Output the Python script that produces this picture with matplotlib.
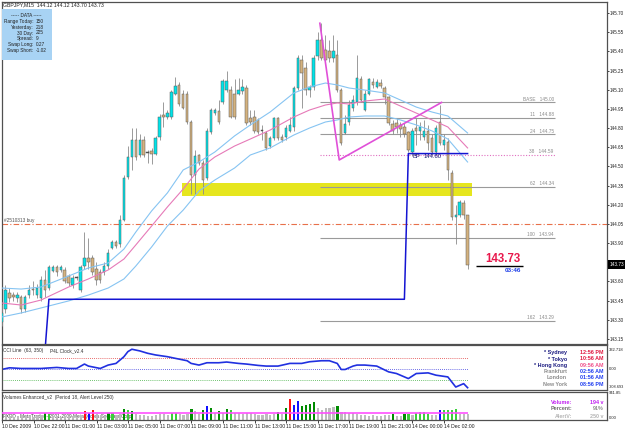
import matplotlib
matplotlib.use("Agg")
import matplotlib.pyplot as plt
from matplotlib.patches import Rectangle

plt.rcParams['font.family'] = ['Liberation Sans', 'DejaVu Sans']

# ---------------- data (GBPJPY, M15) ----------------
opens = [143.28, 143.38, 143.51, 143.49, 143.47, 143.48, 143.38, 143.49, 143.54, 143.49,
         143.47, 143.61, 143.55, 143.68, 143.71, 143.69, 143.69, 143.64, 143.57, 143.63,
         143.53, 143.72, 143.78, 143.78, 143.70, 143.67, 143.67, 143.72, 143.86, 143.91,
         143.89, 144.08, 144.42, 144.57, 144.71, 144.59, 144.71, 144.61, 144.62, 144.60,
         144.73, 144.90, 144.89, 144.89, 145.07, 145.14, 145.07, 145.07, 144.85, 144.43,
         144.59, 144.53, 144.41, 144.77, 144.92, 144.93, 145.00, 145.10, 145.10, 145.07,
         145.07, 145.09, 145.11, 144.88, 144.89, 144.86, 144.78, 144.76, 144.66, 144.72,
         144.88, 144.73, 144.73, 144.78, 144.81, 145.11, 145.33, 145.27, 145.10, 145.12,
         145.36, 145.49, 145.41, 145.40, 145.35, 145.37, 145.10, 144.76, 144.85, 144.96,
         145.00, 145.18, 144.94, 145.07, 145.16, 145.12, 145.15, 145.11, 145.04, 144.83,
         144.84, 144.82, 144.81, 144.77, 144.61, 144.80, 144.78, 144.73, 144.78, 144.72,
         144.61, 144.85, 144.67, 144.69, 144.45, 144.10, 144.12, 144.21, 144.12]
highs = [143.42, 143.57, 143.55, 143.52, 143.52, 143.49, 143.49, 143.57, 143.60, 143.58,
         143.64, 143.69, 143.73, 143.73, 143.73, 143.73, 143.71, 143.66, 143.65, 143.64,
         143.73, 143.99, 143.94, 143.81, 143.75, 143.70, 143.75, 143.85, 143.92, 143.92,
         144.12, 144.43, 144.66, 144.80, 144.80, 144.75, 144.74, 144.63, 144.64, 144.74,
         144.91, 145.00, 144.94, 145.10, 145.20, 145.16, 145.10, 145.09, 144.86, 144.63,
         144.60, 144.55, 144.80, 144.96, 144.96, 145.02, 145.18, 145.25, 145.13, 145.18,
         145.19, 145.18, 145.14, 144.94, 144.94, 144.88, 144.82, 144.78, 144.74, 144.89,
         144.89, 144.75, 144.82, 144.89, 145.13, 145.37, 145.37, 145.32, 145.14, 145.37,
         145.55, 145.62, 145.53, 145.49, 145.53, 145.49, 145.11, 144.90, 145.02, 145.06,
         145.37, 145.21, 145.10, 145.19, 145.19, 145.18, 145.18, 145.13, 145.05, 144.86,
         144.88, 144.85, 144.84, 144.78, 144.80, 144.88, 144.85, 144.86, 144.82, 144.75,
         144.82, 144.98, 144.75, 144.72, 144.47, 144.20, 144.24, 144.24, 144.12]
lows = [143.25, 143.35, 143.44, 143.45, 143.44, 143.35, 143.36, 143.47, 143.49, 143.47,
        143.45, 143.48, 143.53, 143.67, 143.64, 143.67, 143.59, 143.56, 143.55, 143.61,
        143.52, 143.70, 143.70, 143.65, 143.57, 143.59, 143.65, 143.70, 143.85, 143.86,
        143.87, 144.07, 144.40, 144.47, 144.55, 144.57, 144.57, 144.53, 144.52, 144.59,
        144.71, 144.81, 144.87, 144.87, 145.06, 144.97, 144.95, 144.83, 144.28, 144.28,
        144.51, 144.28, 144.39, 144.75, 144.90, 144.83, 144.99, 145.08, 144.88, 144.87,
        145.06, 145.07, 144.82, 144.82, 144.76, 144.75, 144.71, 144.63, 144.64, 144.71,
        144.71, 144.69, 144.71, 144.77, 144.78, 145.10, 144.96, 145.06, 145.04, 145.10,
        145.33, 145.33, 145.32, 145.32, 145.32, 145.08, 144.67, 144.75, 144.82, 144.93,
        144.98, 145.00, 144.93, 145.06, 145.11, 145.11, 145.11, 144.99, 144.82, 144.75,
        144.76, 144.73, 144.73, 144.61, 144.58, 144.67, 144.71, 144.71, 144.63, 144.59,
        144.59, 144.67, 144.63, 144.39, 144.08, 143.89, 144.10, 144.09, 143.70]
closes = [143.35, 143.53, 143.47, 143.48, 143.49, 143.38, 143.48, 143.53, 143.53, 143.55,
          143.61, 143.53, 143.71, 143.71, 143.67, 143.71, 143.60, 143.59, 143.63, 143.625,
          143.71, 143.78, 143.75, 143.67, 143.61, 143.61, 143.72, 143.82, 143.91, 143.88,
          144.08, 144.41, 144.57, 144.71, 144.57, 144.71, 144.59, 144.605, 144.60, 144.72,
          144.89, 144.89, 144.92, 145.08, 145.13, 144.99, 144.96, 144.85, 144.43, 144.58,
          144.53, 144.39, 144.78, 144.94, 144.94, 144.85, 145.17, 145.17, 144.89, 144.89,
          145.10, 145.12, 144.84, 144.85, 144.78, 144.77, 144.775, 144.64, 144.72, 144.88,
          144.72, 144.71, 144.80, 144.82, 145.11, 145.35, 145.23, 145.10, 145.12, 145.35,
          145.49, 145.35, 145.33, 145.35, 145.40, 145.10, 144.68, 144.83, 144.98, 145.02,
          145.19, 145.02, 145.07, 145.18, 145.14, 145.16, 145.13, 145.04, 144.84, 144.78,
          144.81, 144.79, 144.75, 144.63, 144.78, 144.78, 144.81, 144.78, 144.68, 144.61,
          144.80, 144.68, 144.71, 144.47, 144.10, 144.12, 144.22, 144.12, 143.73]

# envelope lines (sampled along the bars)
ma_bars = [0, 5, 10, 17, 22, 27, 31, 34, 38, 42, 46, 50, 54, 59, 63, 68, 74, 78, 82, 85,
           88, 92, 97, 101, 105, 109, 113, 118]
ma_upper = [143.548, 143.540, 143.556, 143.642, 143.705, 143.744, 143.853, 143.986, 144.151,
            144.292, 144.472, 144.534, 144.612, 144.738, 144.824, 144.925, 145.074, 145.121,
            145.152, 145.137, 145.113, 145.097, 145.074, 145.019, 144.964, 144.925, 144.894,
            144.761]
ma_mid = [143.431, 143.415, 143.454, 143.556, 143.619, 143.689, 143.775, 143.885, 144.033,
          144.182, 144.323, 144.479, 144.573, 144.659, 144.714, 144.784, 144.886, 144.941,
          144.980, 144.996, 144.988, 145.011, 145.027, 144.972, 144.917, 144.863, 144.808,
          144.644]
ma_lower = [143.321, 143.353, 143.392, 143.447, 143.493, 143.548, 143.619, 143.720, 143.869,
            144.033, 144.158, 144.307, 144.393, 144.487, 144.589, 144.644, 144.745, 144.800,
            144.847, 144.863, 144.886, 144.894, 144.894, 144.863, 144.824, 144.777, 144.714,
            144.534]

# step line (blue)
zz_bars = [11, 12, 102, 103, 118]
zz_prices = [143.05, 143.46, 143.46, 144.60, 144.60]

# fibo object
tri_bars = [80.6, 85.5, 111.4]
tri_prices = [145.62, 144.55, 145.00]
fib_names = ['BASE', '11', '24', '38', '62', '100', '162']
fib_prices = [145.00, 144.88, 144.75, 144.59, 144.34, 143.94, 143.29]
fib_span = (80.6, 140.1)

zone_bars = (45.7, 119.1)
zone_prices = (144.27, 144.37)
order_price = 144.05
last_price = 143.73

price_ticks = [145.70, 145.55, 145.40, 145.25, 145.10, 144.95, 144.80, 144.65, 144.50,
               144.35, 144.20, 144.05, 143.90, 143.75, 143.60, 143.45, 143.30, 143.15]

cci_bars = [0, 2, 5, 7, 10, 14, 17, 19, 21, 22, 25, 27, 29, 31, 32, 33, 35, 37, 39, 42,
            44, 47, 48, 50, 52, 55, 57, 60, 62, 65, 67, 70, 73, 76, 78, 81, 83, 85, 86, 87,
            89, 90, 92, 95, 98, 100, 103, 105, 108, 110, 113, 115, 117, 118]
cci_vals = [-6, 17, 8, 8, 8, 22, 8, 8, 69, 41, 8, 55, 78, 171, 241, 274, 251, 218, 195, 171,
            148, 115, 78, 55, 87, 87, 97, 78, 69, 50, 41, 41, 78, 78, 101, 115, 115, 78, -6, -6,
            41, 55, 55, 41, -39, -62, -132, -62, -53, -85, -109, -249, -202, -258]
cci_levels = [150, 0, -150]

vols = [150, 170, 120, 110, 130, 160, 150, 120, 100, 140,
        170, 220, 200, 130, 120, 110, 150, 140, 130, 100,
        180, 310, 230, 320, 200, 170, 150, 250, 250, 160,
        210, 360, 340, 290, 190, 170, 160, 130, 120, 160,
        200, 190, 170, 230, 250, 200, 180, 210, 370, 290,
        200, 320, 480, 400, 220, 310, 240, 370, 340, 230,
        220, 200, 240, 220, 200, 180, 170, 200, 180, 190,
        280, 210, 400, 710, 510, 630, 480, 490, 540, 590,
        400, 340, 400, 400, 430, 480, 280, 280, 250, 250,
        200, 180, 170, 150, 160, 140, 150, 170, 180, 210,
        140, 120, 210, 200, 170, 230, 280, 280, 210, 170,
        170, 340, 320, 340, 340, 360, 210, 210, 194]
vol_kind = ('xxxxxxxxxx' 'xglxxxxxxx' 'xrbrxxxglx' 'xglgxxxxxx' 'xxxllxxxgx'
            'xgbgxgxglx' 'xxxxxxxxxx' 'gxgrbbgggg' 'xxxxxgxxxx' 'xxxxxxxxxg'
            'xxglxllllx' 'xbllllxxx')
vol_alert = 250

time_ticks = [0, 8, 16, 24, 32, 40, 48, 56, 64, 72, 80, 88, 96, 104, 112]
time_labels = ['10 Dec 2009', '10 Dec 22:00', '11 Dec 01:00', '11 Dec 03:00', '11 Dec 05:00',
               '11 Dec 07:00', '11 Dec 09:00', '11 Dec 11:00', '11 Dec 13:00', '11 Dec 15:00',
               '11 Dec 17:00', '11 Dec 19:00', '11 Dec 21:00', '14 Dec 00:00', '14 Dec 02:00']

clock_cities = ['* Sydney', '* Tokyo', '* Hong Kong', 'Frankfurt', 'London', 'New York']
clock_times = ['12:56 PM', '10:56 AM', '09:56 AM', '02:56 AM', '01:56 AM', '08:56 PM']

info_labels = ['Range Today:', 'Yesterday:', '30 Day:', 'Spread:', 'Swap Long:', 'Swap Short:']
info_values = ['150', '218', '225', '9', '0.27', '-1.02']

# ---------------- layout helpers ----------------
W, H = 625, 429
BAR0, STEP = 1.5, 3.95


def bar_at(px):
    return (px - BAR0) / STEP


fig = plt.figure(figsize=(W / 100, H / 100), dpi=100)
fig.patch.set_facecolor('white')


def panel(x0, y0, x1, y1):
    a = fig.add_axes([x0 / W, 1 - y1 / H, (x1 - x0) / W, (y1 - y0) / H])
    a.set_xlim(bar_at(x0), bar_at(x1))
    a.set_xticks([])
    a.set_yticks([])
    for s in a.spines.values():
        s.set_color('#505050')
        s.set_linewidth(0.9)
    return a


def ftext(px, py, s, **kw):
    kw.setdefault('va', 'center')
    fig.text(px / W, 1 - py / H, s, **kw)


# ---------------- main price panel ----------------
ax = panel(2, 2, 607, 344)
ax.set_ylim(143.11, 145.786)

ax.add_patch(Rectangle((zone_bars[0], zone_prices[0]), zone_bars[1] - zone_bars[0],
                       zone_prices[1] - zone_prices[0], color='#E6E61E', lw=0, zorder=1))

for name, p in zip(fib_names, fib_prices):
    if name == '38':
        ax.hlines(p, fib_span[0], fib_span[1], color='#E070C0', lw=0.8,
                  linestyles=(0, (1, 1.5)), zorder=2)
    else:
        ax.hlines(p, fib_span[0], fib_span[1], color='#9A9A9A', lw=0.8, zorder=2)
    ax.text(fib_span[1] - 0.3, p + 0.006, f'{name}   {p:.2f}', fontsize=3.4,
            color='#8A8A8A', ha='right', va='bottom', zorder=6)

ax.axhline(order_price, color='#E8704A', lw=0.8, dashes=(5, 2, 1, 2), zorder=2)
ax.text(bar_at(4), order_price + 0.008, '#2510313 buy', fontsize=3.4, color='#505050',
        va='bottom', ha='left', zorder=6)

for i, (o, h, l, c) in enumerate(zip(opens, highs, lows, closes)):
    ax.vlines(i, l, h, color='#8A8A8A', lw=0.6, zorder=3)
    if abs(c - o) < 0.008:
        col = '#404040'
    elif c > o:
        col = '#00E3E8'
    else:
        col = '#D4B27E'
    ax.bar(i, max(abs(c - o), 0.007), bottom=min(o, c), width=0.62, color=col,
           edgecolor='#5A5A5A', lw=0.35, zorder=4)

ax.plot(ma_bars, ma_upper, color='#86C4F2', lw=0.8, zorder=5)
ax.plot(ma_bars, ma_lower, color='#86C4F2', lw=0.8, zorder=5)
ax.plot(ma_bars, ma_mid, color='#E67AB8', lw=0.8, zorder=5)

ax.plot(tri_bars, tri_prices, color='#E050D8', lw=1.2, zorder=6)
ax.plot(zz_bars, zz_prices, color='#1414D2', lw=1.1, zorder=6, clip_on=True)
ax.text(zz_bars[3] + 1.0, zz_prices[3] - 0.004, 'BP', fontsize=4.2, color='#101070',
        va='top', ha='left', zorder=7)
ax.text(zz_bars[3] + 3.8, zz_prices[3] - 0.004, f'{zz_prices[3]:.2f}', fontsize=4.2,
        color='#101070', va='top', ha='left', zorder=7)

ax.hlines(last_price - 0.01, bar_at(476), bar_at(523), color='black', lw=1.0, zorder=6)
ax.text(bar_at(521), last_price + 0.0, f'{last_price:.2f}', fontsize=8.3, fontweight='bold',
        color='#E8184C', ha='right', va='bottom', zorder=7)
ax.text(bar_at(521), last_price - 0.025, '03:46', fontsize=4.6, fontweight='bold',
        color='#2040E8', ha='right', va='top', zorder=7)

# right price scale (the 143.75 label sits under the black price tag)
ax.yaxis.tick_right()
ax.set_yticks(price_ticks)
ax.set_yticklabels(['' if abs(p - last_price) < 0.05 else f'{p:.2f}' for p in price_ticks])
ax.tick_params(axis='y', labelsize=3.3, length=1.5, width=0.6, pad=0.5, colors='#202020')

# title and info box
ftext(3, 5, 'GBPJPY,M15  144.12 144.12 143.70 143.73', fontsize=3.7, color='#202020')
fig.patches.append(Rectangle((2 / W, 1 - 59.5 / H), 50 / W, 50.5 / H,
                             transform=fig.transFigure, color='#A8D3F4', lw=0))
ftext(26, 15.7, '----- DATA -----', fontsize=3.4, color='#202020', ha='center')
for k, (lab, val) in enumerate(zip(info_labels, info_values)):
    yy = 21.2 + k * 5.9
    ftext(33.5, yy, lab, fontsize=3.4, color='#202020', ha='right')
    ftext(36, yy, val, fontsize=3.4, color='#202020', ha='left')

# price tag on the axis
fig.patches.append(Rectangle((608 / W, 1 - 268.5 / H), 17 / W, 9 / H,
                             transform=fig.transFigure, color='black', lw=0))
ftext(616.5, 264, f'{last_price:.2f}', fontsize=3.4, color='white', ha='center')

# ---------------- CCI panel ----------------
axc = panel(2, 345, 607, 390)
axc.set_ylim(-290, 332.718)
for lvl, lc in zip(cci_levels, ['#E03A3A', '#3A3AE0', '#40B040']):
    axc.hlines(lvl, bar_at(2), 118, color=lc, lw=0.6, linestyles=(0, (1, 1.5)))
axc.plot(cci_bars, cci_vals, color='#2030E0', lw=1.2)
ftext(3, 350.5, 'CCI Line  (63, 350)', fontsize=3.4, color='#303030')
ftext(50, 350.5, 'P4L Clock_v2.4', fontsize=3.4, color='#303030')
ftext(608.5, 350, '332.718', fontsize=3.0, color='#202020')
ftext(608.5, 369, '0.00', fontsize=3.0, color='#202020')
ftext(608.5, 387, '-308.693', fontsize=2.8, color='#202020')

for k, (city, t) in enumerate(zip(clock_cities, clock_times)):
    yy = 352.7 + k * 6.3
    ccol = '#1A1A80' if k < 3 else '#8C8C8C'
    tcol = ['#E0143C', '#E0143C', '#F04C88', '#1E3CF0', '#1E3CF0', '#1E3CF0'][k]
    ftext(567, yy, city, fontsize=3.9, fontweight='bold', color=ccol, ha='right')
    ftext(604, yy, t, fontsize=3.9, fontweight='bold', color=tcol, ha='right')

# ---------------- volume panel ----------------
axv = panel(2, 392, 607, 420)
axv.set_ylim(0, 941.85)
palette = {'x': '#BDBDBD', 'g': '#008C00', 'l': '#3CCF3C', 'r': '#FF1010', 'b': '#1010FF'}
axv.text(bar_at(3), 120, 'FXDD - MetaTrader - 2001-2009 MetaQuotes Software Corp.',
         fontsize=3.4, color='#404040', va='center', zorder=1)
axv.bar(range(len(vols)), vols, width=0.55, color=[palette[k] for k in vol_kind], zorder=2)
axv.hlines(vol_alert, bar_at(2), 118, color='#FF50FF', lw=1.2, zorder=3)
ftext(3, 397.5, 'Volumes Enhanced_v2  (Period 18, Alert Level 250)', fontsize=3.4,
      color='#303030')
ftext(572, 402, 'Volume:', fontsize=3.9, fontweight='bold', color='#C020F0', ha='right')
ftext(604, 402, '194 v', fontsize=3.9, fontweight='bold', color='#C020F0', ha='right')
ftext(572, 409, 'Percent:', fontsize=3.9, fontweight='bold', color='#707070', ha='right')
ftext(604, 409, '91%', fontsize=3.9, fontweight='bold', color='#909090', ha='right')
ftext(572, 416, 'AlertV:', fontsize=3.9, fontweight='bold', color='#B4B4B4', ha='right')
ftext(604, 416, '250 v', fontsize=3.9, fontweight='bold', color='#B4B4B4', ha='right')
ftext(608.5, 393.5, '941.85', fontsize=3.0, color='#202020')
ftext(608.5, 418, '0.00', fontsize=3.0, color='#202020')

axv.set_xticks(time_ticks)
axv.set_xticklabels(time_labels, ha='left')
axv.tick_params(axis='x', labelsize=3.7, length=2, width=0.6, pad=1, colors='#202020')

fig.savefig('out.png', dpi=100)
